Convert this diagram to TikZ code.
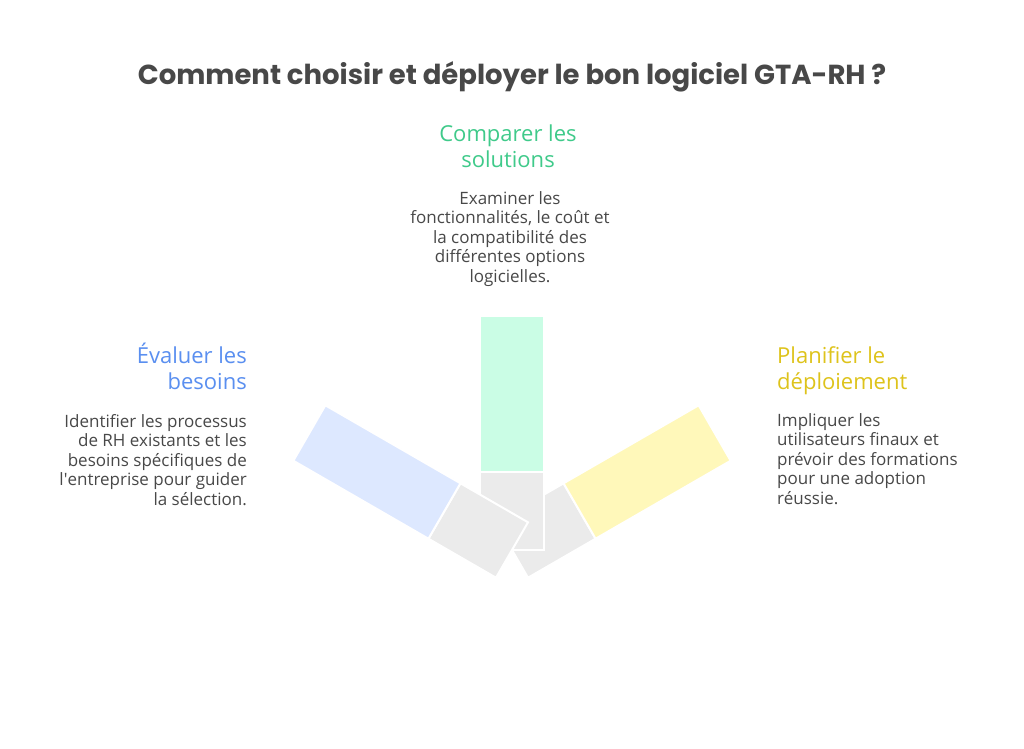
\documentclass[tikz,border=0pt]{standalone}
\usepackage{fontspec}
\setmainfont{Open Sans}
\newfontfamily\titlefont{Poppins}
\definecolor{ctext}{HTML}{484848}
\definecolor{cblue}{HTML}{5A8FF0}
\definecolor{cgreen}{HTML}{3FCA8A}
\definecolor{cyellow}{HTML}{DEC31B}
\definecolor{fblue}{HTML}{DDE8FF}
\definecolor{fgreen}{HTML}{CAFDE5}
\definecolor{fyellow}{HTML}{FFF8BA}
\definecolor{fgray}{HTML}{EBEBEB}
\begin{document}
\begin{tikzpicture}[x=1pt,y=-1pt,
  titletext/.style={font=\titlefont\bfseries\fontsize{27.5}{32}\selectfont, text=ctext, inner sep=0pt},
  headtext/.style={font=\fontsize{22}{26}\selectfont, inner sep=0pt},
  bodytext/.style={font=\fontsize{17}{19.5}\selectfont, text=ctext, inner sep=0pt},
  barpart/.style={draw=white, line width=2pt, line join=miter}]
\useasboundingbox[fill=white] (0,0) rectangle (1024,748);

\node[titletext, anchor=base] (title) at (512,84) {Comment choisir et déployer le bon logiciel GTA-RH ?};

% right bar (bottom layer)
\begin{scope}[shift={(512,550)}, rotate=-60]
  \filldraw[barpart, fill=fgray] (-32,0) rectangle (32,-78);
  \filldraw[barpart, fill=fyellow] (-32,-78) rectangle (32,-234);
\end{scope}
% central bar
\begin{scope}[shift={(512,550)}]
  \filldraw[barpart, fill=fgray] (-32,0) rectangle (32,-78);
  \filldraw[barpart, fill=fgreen] (-32,-78) rectangle (32,-234);
\end{scope}
% left bar (top layer)
\begin{scope}[shift={(512,550)}, rotate=60]
  \filldraw[barpart, fill=fgray] (-32,0) rectangle (32,-78);
  \filldraw[barpart, fill=fblue] (-32,-78) rectangle (32,-234);
\end{scope}

% left texts (anchor = baseline of last line)
\node[headtext, text=cblue, align=right, anchor=base east] (h1) at (247,389) {Évaluer les\\besoins};
\node[bodytext, align=right, anchor=base east] (b1) at (247,505) {Identifier les processus\\de RH existants et les\\besoins spécifiques de\\l\textquotesingle entreprise pour guider\\la sélection.};

% center texts
\node[headtext, text=cgreen, align=center, anchor=base] (h2) at (508,167) {Comparer les\\solutions};
\node[bodytext, align=center, anchor=base] (b2) at (510,282) {Examiner les\\fonctionnalités, le coût et\\la compatibilité des\\différentes options\\logicielles.};

% right texts
\node[headtext, text=cyellow, align=left, anchor=base west] (h3) at (777,389) {Planifier le\\déploiement};
\node[bodytext, align=left, anchor=base west] (b3) at (777,504) {Impliquer les\\utilisateurs finaux et\\prévoir des formations\\pour une adoption\\réussie.};
\end{tikzpicture}
\end{document}
